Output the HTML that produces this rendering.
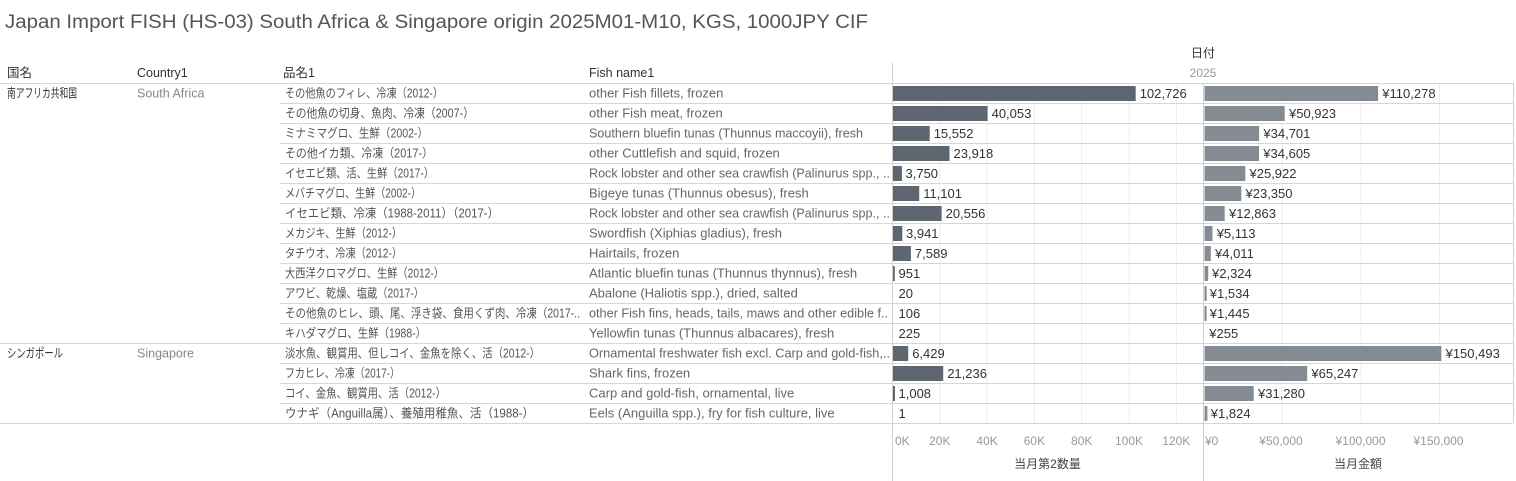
<!DOCTYPE html>
<html><head><meta charset="utf-8"><style>
html,body{margin:0;padding:0;background:#fff;}
svg{display:block;}
text{font-family:"Liberation Sans","Noto Sans CJK JP",sans-serif;}
.jp{font-size:12.5px;fill:#555;}
.en{font-size:13px;fill:#666;}
.lbl{font-size:13px;fill:#333;}
.tick{font-size:12px;fill:#999;}
.hdr{font-size:12.5px;fill:#333;}
</style></head><body>
<svg width="1516" height="481" viewBox="0 0 1516 481" xmlns="http://www.w3.org/2000/svg">
<rect width="1516" height="481" fill="#fff"/>
<text x="5" y="28" font-size="19" fill="#555" textLength="863" lengthAdjust="spacingAndGlyphs">Japan Import FISH (HS-03) South Africa &amp; Singapore origin 2025M01-M10, KGS, 1000JPY CIF</text>

<!-- gridlines -->
<g stroke="#ededed" stroke-width="1">
<line x1="939.8" y1="83" x2="939.8" y2="423"/>
<line x1="987.1" y1="83" x2="987.1" y2="423"/>
<line x1="1034.4" y1="83" x2="1034.4" y2="423"/>
<line x1="1081.7" y1="83" x2="1081.7" y2="423"/>
<line x1="1129" y1="83" x2="1129" y2="423"/>
<line x1="1176.3" y1="83" x2="1176.3" y2="423"/>
<line x1="1282.2" y1="83" x2="1282.2" y2="423"/>
<line x1="1360.9" y1="83" x2="1360.9" y2="423"/>
<line x1="1439.6" y1="83" x2="1439.6" y2="423"/>
</g>

<!-- row separators -->
<g stroke="#d6d6d6" stroke-width="1">
<line x1="0" y1="83.5" x2="1513" y2="83.5"/>
<line x1="280" y1="103.5" x2="1513" y2="103.5"/>
<line x1="280" y1="123.5" x2="1513" y2="123.5"/>
<line x1="280" y1="143.5" x2="1513" y2="143.5"/>
<line x1="280" y1="163.5" x2="1513" y2="163.5"/>
<line x1="280" y1="183.5" x2="1513" y2="183.5"/>
<line x1="280" y1="203.5" x2="1513" y2="203.5"/>
<line x1="280" y1="223.5" x2="1513" y2="223.5"/>
<line x1="280" y1="243.5" x2="1513" y2="243.5"/>
<line x1="280" y1="263.5" x2="1513" y2="263.5"/>
<line x1="280" y1="283.5" x2="1513" y2="283.5"/>
<line x1="280" y1="303.5" x2="1513" y2="303.5"/>
<line x1="280" y1="323.5" x2="1513" y2="323.5"/>
<line x1="0" y1="343.5" x2="1513" y2="343.5"/>
<line x1="280" y1="363.5" x2="1513" y2="363.5"/>
<line x1="280" y1="383.5" x2="1513" y2="383.5"/>
<line x1="280" y1="403.5" x2="1513" y2="403.5"/>
<line x1="0" y1="423.5" x2="1513" y2="423.5"/>
</g>
<g stroke="#d0d0d0" stroke-width="1">
<line x1="892.5" y1="63" x2="892.5" y2="481"/>
<line x1="1203.5" y1="83" x2="1203.5" y2="481"/>
<line x1="1513.5" y1="83" x2="1513.5" y2="423"/>
</g>

<!-- headers -->
<text x="1203" y="57" font-size="12" fill="#333" text-anchor="middle">日付</text>
<text x="1203" y="77" font-size="12" fill="#999" text-anchor="middle">2025</text>
<text x="7" y="77" class="hdr">国名</text>
<text x="137" y="77" class="hdr">Country1</text>
<text x="283" y="77" class="hdr">品名1</text>
<text x="589" y="77" class="hdr">Fish name1</text>

<!-- country -->
<text x="7" y="97.5" font-size="12.5" fill="#333" textLength="70" lengthAdjust="spacingAndGlyphs">南アフリカ共和国</text>
<text x="137" y="97.5" font-size="12.5" fill="#888">South Africa</text>
<text x="7" y="357.5" font-size="12.5" fill="#333" textLength="56" lengthAdjust="spacingAndGlyphs">シンガポール</text>
<text x="137" y="357.5" font-size="12.5" fill="#888">Singapore</text>

<!-- 品名1 -->
<g class="jp">
<text x="285" y="97.5" textLength="158" lengthAdjust="spacingAndGlyphs">その他魚のフィレ、冷凍（2012-）</text>
<text x="285" y="117.5" textLength="189" lengthAdjust="spacingAndGlyphs">その他魚の切身、魚肉、冷凍（2007-）</text>
<text x="285" y="137.5" textLength="143" lengthAdjust="spacingAndGlyphs">ミナミマグロ、生鮮（2002-）</text>
<text x="285" y="157.5" textLength="148" lengthAdjust="spacingAndGlyphs">その他イカ類、冷凍（2017-）</text>
<text x="285" y="177.5" textLength="149" lengthAdjust="spacingAndGlyphs">イセエビ類、活、生鮮（2017-）</text>
<text x="285" y="197.5" textLength="136" lengthAdjust="spacingAndGlyphs">メバチマグロ、生鮮（2002-）</text>
<text x="285" y="217.5" textLength="214" lengthAdjust="spacingAndGlyphs">イセエビ類、冷凍（1988-2011）（2017-）</text>
<text x="285" y="237.5" textLength="117" lengthAdjust="spacingAndGlyphs">メカジキ、生鮮（2012-）</text>
<text x="285" y="257.5" textLength="117" lengthAdjust="spacingAndGlyphs">タチウオ、冷凍（2012-）</text>
<text x="285" y="277.5" textLength="159" lengthAdjust="spacingAndGlyphs">大西洋クロマグロ、生鮮（2012-）</text>
<text x="285" y="297.5" textLength="139" lengthAdjust="spacingAndGlyphs">アワビ、乾燥、塩蔵（2017-）</text>
<text x="285" y="317.5" textLength="295" lengthAdjust="spacingAndGlyphs">その他魚のヒレ、頭、尾、浮き袋、食用くず肉、冷凍（2017-..</text>
<text x="285" y="337.5" textLength="141" lengthAdjust="spacingAndGlyphs">キハダマグロ、生鮮（1988-）</text>
<text x="285" y="357.5" textLength="255" lengthAdjust="spacingAndGlyphs">淡水魚、観賞用、但しコイ、金魚を除く、活（2012-）</text>
<text x="285" y="377.5" textLength="115" lengthAdjust="spacingAndGlyphs">フカヒレ、冷凍（2017-）</text>
<text x="285" y="397.5" textLength="161" lengthAdjust="spacingAndGlyphs">コイ、金魚、観賞用、活（2012-）</text>
<text x="285" y="417.5" textLength="249" lengthAdjust="spacingAndGlyphs">ウナギ（Anguilla属）、養殖用稚魚、活（1988-）</text>
</g>

<!-- Fish name1 -->
<g class="en">
<text x="589" y="97.5">other Fish fillets, frozen</text>
<text x="589" y="117.5">other Fish meat, frozen</text>
<text x="589" y="137.5" textLength="274" lengthAdjust="spacingAndGlyphs">Southern bluefin tunas (Thunnus maccoyii), fresh</text>
<text x="589" y="157.5">other Cuttlefish and squid, frozen</text>
<text x="589" y="177.5" textLength="301" lengthAdjust="spacingAndGlyphs">Rock lobster and other sea crawfish (Palinurus spp., ..</text>
<text x="589" y="197.5">Bigeye tunas (Thunnus obesus), fresh</text>
<text x="589" y="217.5" textLength="301" lengthAdjust="spacingAndGlyphs">Rock lobster and other sea crawfish (Palinurus spp., ..</text>
<text x="589" y="237.5">Swordfish (Xiphias gladius), fresh</text>
<text x="589" y="257.5">Hairtails, frozen</text>
<text x="589" y="277.5">Atlantic bluefin tunas (Thunnus thynnus), fresh</text>
<text x="589" y="297.5">Abalone (Haliotis spp.), dried, salted</text>
<text x="589" y="317.5" textLength="299" lengthAdjust="spacingAndGlyphs">other Fish fins, heads, tails, maws and other edible f..</text>
<text x="589" y="337.5">Yellowfin tunas (Thunnus albacares), fresh</text>
<text x="589" y="357.5" textLength="301" lengthAdjust="spacingAndGlyphs">Ornamental freshwater fish excl. Carp and gold-fish,..</text>
<text x="589" y="377.5">Shark fins, frozen</text>
<text x="589" y="397.5">Carp and gold-fish, ornamental, live</text>
<text x="589" y="417.5">Eels (Anguilla spp.), fry for fish culture, live</text>
</g>

<!-- left bars -->
<g fill="#5e6771">
<rect x="893" y="86" width="242.7" height="15"/>
<rect x="893" y="106" width="94.6" height="15"/>
<rect x="893" y="126" width="36.7" height="15"/>
<rect x="893" y="146" width="56.5" height="15"/>
<rect x="893" y="166" width="8.9" height="15"/>
<rect x="893" y="186" width="26.2" height="15"/>
<rect x="893" y="206" width="48.6" height="15"/>
<rect x="893" y="226" width="9.3" height="15"/>
<rect x="893" y="246" width="17.9" height="15"/>
<rect x="893" y="266" width="1.8" height="15"/>
<rect x="893" y="346" width="15.2" height="15"/>
<rect x="893" y="366" width="50.2" height="15"/>
<rect x="893" y="386" width="2" height="15"/>
</g>
<g class="lbl">
<text x="1139.7" y="98">102,726</text>
<text x="991.6" y="118">40,053</text>
<text x="933.7" y="138">15,552</text>
<text x="953.5" y="158">23,918</text>
<text x="905.5" y="178">3,750</text>
<text x="923.2" y="198">11,101</text>
<text x="945.6" y="218">20,556</text>
<text x="906" y="238">3,941</text>
<text x="914.9" y="258">7,589</text>
<text x="898.5" y="278">951</text>
<text x="898.5" y="298">20</text>
<text x="898.5" y="318">106</text>
<text x="898.5" y="338">225</text>
<text x="912.2" y="358">6,429</text>
<text x="947.2" y="378">21,236</text>
<text x="898.5" y="398">1,008</text>
<text x="898.5" y="418">1</text>
</g>

<!-- right bars -->
<g fill="#848b93">
<rect x="1204.5" y="86" width="173.6" height="15"/>
<rect x="1204.5" y="106" width="80.2" height="15"/>
<rect x="1204.5" y="126" width="54.6" height="15"/>
<rect x="1204.5" y="146" width="54.5" height="15"/>
<rect x="1204.5" y="166" width="40.8" height="15"/>
<rect x="1204.5" y="186" width="36.8" height="15"/>
<rect x="1204.5" y="206" width="20.2" height="15"/>
<rect x="1204.5" y="226" width="8" height="15"/>
<rect x="1204.5" y="246" width="6.3" height="15"/>
<rect x="1204.5" y="266" width="3.7" height="15"/>
<rect x="1204.5" y="286" width="2.2" height="15"/>
<rect x="1204.5" y="306" width="2.1" height="15"/>
<rect x="1204.5" y="346" width="236.9" height="15"/>
<rect x="1204.5" y="366" width="102.7" height="15"/>
<rect x="1204.5" y="386" width="49.2" height="15"/>
<rect x="1204.5" y="406" width="2.9" height="15"/>
</g>
<g class="lbl">
<text x="1382.3" y="98">¥110,278</text>
<text x="1289" y="118">¥50,923</text>
<text x="1263.4" y="138">¥34,701</text>
<text x="1263.3" y="158">¥34,605</text>
<text x="1249.5" y="178">¥25,922</text>
<text x="1245.5" y="198">¥23,350</text>
<text x="1229" y="218">¥12,863</text>
<text x="1216.7" y="238">¥5,113</text>
<text x="1215" y="258">¥4,011</text>
<text x="1212" y="278">¥2,324</text>
<text x="1209.8" y="298">¥1,534</text>
<text x="1209.8" y="318">¥1,445</text>
<text x="1209.3" y="338">¥255</text>
<text x="1445.6" y="358">¥150,493</text>
<text x="1311.4" y="378">¥65,247</text>
<text x="1258" y="398">¥31,280</text>
<text x="1210.8" y="418">¥1,824</text>
</g>

<!-- axis ticks -->
<g class="tick">
<text x="895" y="445">0K</text>
<text x="939.8" y="445" text-anchor="middle">20K</text>
<text x="987.1" y="445" text-anchor="middle">40K</text>
<text x="1034.4" y="445" text-anchor="middle">60K</text>
<text x="1081.7" y="445" text-anchor="middle">80K</text>
<text x="1129" y="445" text-anchor="middle">100K</text>
<text x="1176.3" y="445" text-anchor="middle">120K</text>
<text x="1205" y="445">¥0</text>
<text x="1281" y="445" text-anchor="middle">¥50,000</text>
<text x="1360.5" y="445" text-anchor="middle">¥100,000</text>
<text x="1438.5" y="445" text-anchor="middle">¥150,000</text>
</g>
<text x="1047.5" y="468" font-size="12" fill="#444" text-anchor="middle">当月第2数量</text>
<text x="1358" y="468" font-size="12" fill="#444" text-anchor="middle">当月金額</text>
</svg>
</body></html>
